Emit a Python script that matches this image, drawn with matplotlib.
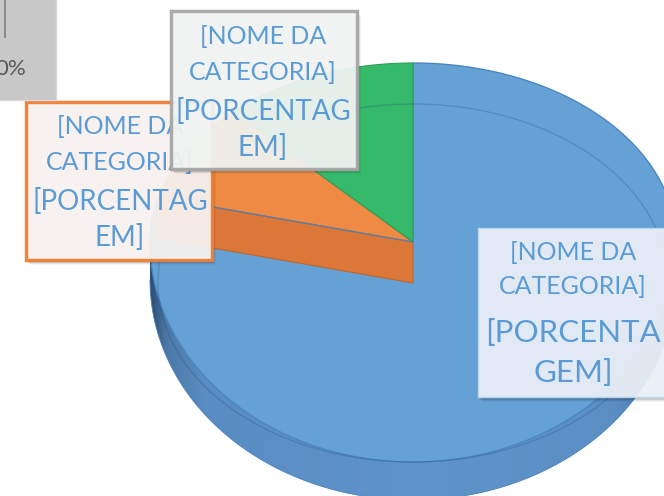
import numpy as np
import matplotlib
matplotlib.use("Agg")
import matplotlib.pyplot as plt
from matplotlib.patches import Polygon, Rectangle, Ellipse

# ---- data ----
categories = ["[NOME DA CATEGORIA] 1", "[NOME DA CATEGORIA] 2", "[NOME DA CATEGORIA] 3"]
values = [79, 9, 12]
label_line1 = ["[NOME DA", "[NOME DA", "[NOME DA"]
label_line2 = ["CATEGORIA]", "CATEGORIA]", "CATEGORIA]"]
label_line3 = ["[PORCENTA", "[PORCENTAG", "[PORCENTAG"]
label_line4 = ["GEM]", "EM]", "EM]"]
top_colors = ["#66A1D6", "#EE8A44", "#35B96B"]
edge_colors = ["#4A86C2", "#D26A2A", "#2A9E58"]
wall_color = "#DB7839"
box_edges = ["#BDD7EE", "#ED7D31", "#A5A5A5"]
box_faces = ["#EDF3FA", "#FBF6F3", "#F4F7F5"]
text_color = "#5B9BD5"

fig = plt.figure(figsize=(6.64, 4.96), dpi=100)
ax = fig.add_axes([0, 0, 1, 1])
ax.set_xlim(0, 664)
ax.set_ylim(496, 0)
ax.axis("off")

cx, cy = 413.0, 242.0
rx, ry_far, ry_near = 263.0, 179.0, 220.0
depth = 38.0

def pt(theta_deg, dy=0.0):
    t = np.radians(theta_deg)
    c = np.cos(t)
    ry = ry_far if c > 0 else ry_near
    return (cx + rx * np.sin(t), cy - ry * c + dy)

# angles (clockwise from 12 o'clock)
frac = np.array(values, dtype=float) / np.sum(values)
ends = np.cumsum(frac) * 360.0
starts = ends - frac * 360.0

# ---- side wall (front) ----
th = np.linspace(90, 270, 200)
upper = [pt(t) for t in th]
lower = [pt(t, depth) for t in th[::-1]]
side_poly = Polygon(upper + lower, closed=True, facecolor="none", edgecolor="none")
ax.add_patch(side_poly)
grad = np.linspace(0, 1, 400)
xs = np.array([0.0, 0.03, 0.10, 0.5, 0.88, 0.97, 1.0])
rs = np.array([0.17, 0.30, 0.35, 0.37, 0.36, 0.30, 0.25])
gs = np.array([0.30, 0.47, 0.55, 0.58, 0.56, 0.47, 0.42])
bs = np.array([0.45, 0.65, 0.76, 0.79, 0.77, 0.68, 0.62])
img = np.stack([np.interp(grad, xs, rs), np.interp(grad, xs, gs), np.interp(grad, xs, bs)], axis=-1)[None, :, :]
im = ax.imshow(img, extent=(cx - rx, cx + rx, cy + depth + ry_near + 2, cy - 5), aspect="auto", zorder=1)
im.set_clip_path(side_poly)
ax.plot([p[0] for p in lower], [p[1] for p in lower], color="#4A80BC", lw=0.6, zorder=1.5)

# ---- top faces ----
def wedge_pts(a0, a1):
    ts = np.linspace(a0, a1, max(int(abs(a1 - a0)), 2) * 2)
    return [(cx, cy)] + [pt(t) for t in ts]

# blue
ax.add_patch(Polygon(wedge_pts(starts[0], ends[0]), closed=True, facecolor=top_colors[0],
                     edgecolor=edge_colors[0], lw=1.0, zorder=2))
# orange radial wall (at blue/orange boundary)
a = starts[1]
w = [(cx, cy), pt(a), pt(a, 41), (cx, cy + 41)]
ax.add_patch(Polygon(w, closed=True, facecolor=wall_color, edgecolor="#C0652C", lw=0.8, zorder=2.2))
# orange and green tops
for i in (1, 2):
    ax.add_patch(Polygon(wedge_pts(starts[i], ends[i]), closed=True, facecolor=top_colors[i],
                         edgecolor=edge_colors[i], lw=0.8, zorder=2.4))
ax.plot([cx, pt(a)[0]], [cy, pt(a)[1]], color="#5A7FA8", lw=1.0, zorder=2.5)

# inner bevel line
ax.add_patch(Ellipse((cx, cy + 41), 2 * 255, 2 * 179, facecolor="none",
                     edgecolor=(0.1, 0.25, 0.45, 0.22), lw=1.0, zorder=2.6))

# ---- label boxes ----
boxes = [(478, 228, 200, 169), (26, 102, 186, 158), (171, 11, 186, 158)]
text_x = [573, 120, 263]
text_y = [[252, 287, 333, 373], [126, 162, 201, 238], [37, 72, 111, 147]]
sizes = [[18, 18, 22.5, 22.5], [18, 18, 20, 20], [18, 18, 20, 20]]
lws = [1.0, 2.5, 2.5]
for i in range(3):
    x0, y0, bw, bh = boxes[i]
    for k, al in enumerate([0.10, 0.07, 0.04]):
        ax.add_patch(Rectangle((x0 + 2 + k, y0 + 3 + k), bw, bh, facecolor="black",
                               edgecolor="none", alpha=al, zorder=3 + i * 0.1))
    ax.add_patch(Rectangle((x0, y0), bw, bh, facecolor=box_faces[i], edgecolor=box_edges[i],
                           lw=lws[i], alpha=0.93, zorder=3.05 + i * 0.1))
    lines = [label_line1[i], label_line2[i], label_line3[i], label_line4[i]]
    for j, s in enumerate(lines):
        ax.text(text_x[i], text_y[i][j], s, ha="center", va="center", fontsize=sizes[i][j],
                color=text_color, family="Lato", zorder=3.08 + i * 0.1)

# ---- fragment of neighbouring chart (top-left) ----
ax.add_patch(Rectangle((-2, -2), 58, 102, facecolor="#C8C8C8", edgecolor="#DADADA", lw=1.0, zorder=4))
ax.plot([5, 5], [0, 37], color="#7F7F7F", lw=1.2, zorder=4.1)
ax.text(26, 69, "0%", ha="right", va="center", fontsize=16, color="#595959",
        family="Lato", zorder=4.2)

fig.savefig("out.png", dpi=100)
